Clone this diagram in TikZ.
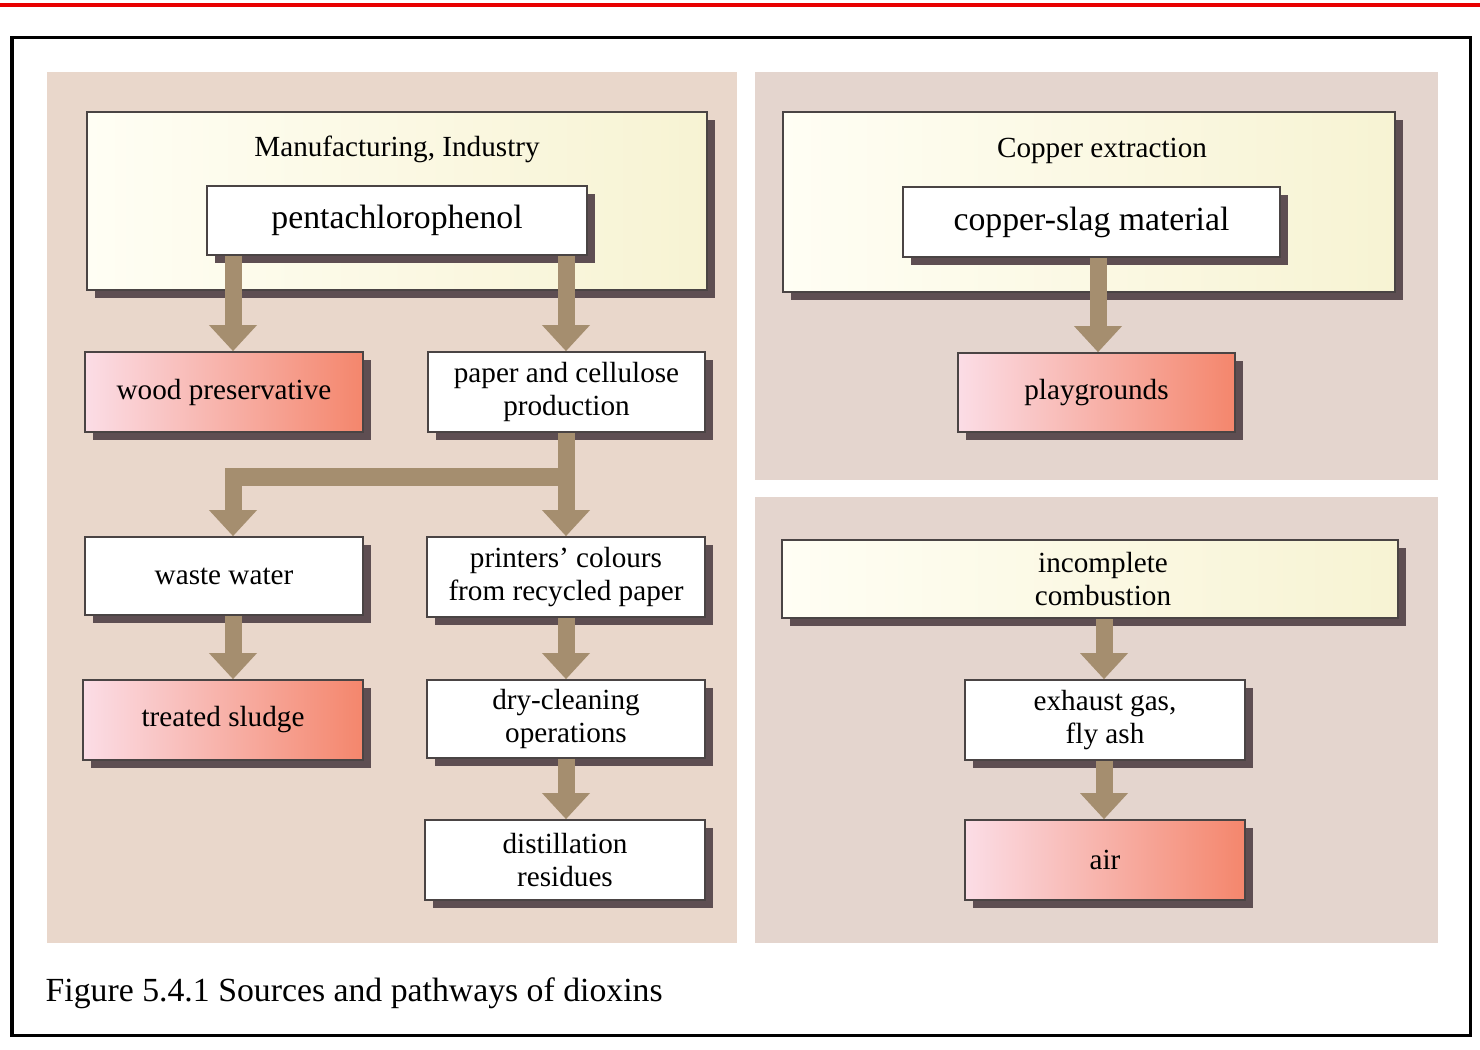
\documentclass[tikz,border=0pt]{standalone}
\usepackage{fontspec}
\setmainfont{Liberation Serif}
\usetikzlibrary{arrows.meta,shadows}
\definecolor{panelL}{HTML}{E9D7CB}
\definecolor{panelR}{HTML}{E4D5CE}
\definecolor{arrowcol}{HTML}{A58E6F}
\definecolor{edgecol}{HTML}{4A4444}
\definecolor{shadecol}{HTML}{5E4E52}
\definecolor{pinkL}{HTML}{FBDDE6}
\definecolor{salmon}{HTML}{F4866C}
\definecolor{creamL}{HTML}{FFFEF4}
\definecolor{creamR}{HTML}{F7F3D3}
\definecolor{topred}{HTML}{E80000}
\newcommand\myboxfont{\fontsize{8.3}{9.4}\selectfont}
\newcommand\mybigfont{\fontsize{9.6}{11}\selectfont}
\tikzset{
  box/.style={draw=edgecol, line width=0.5pt, align=center, inner sep=0pt,
    font=\myboxfont,
    general shadow={fill=shadecol, shadow xshift=0.08cm, shadow yshift=-0.08cm}},
  whitebox/.style={box, fill=white},
  redbox/.style={box, left color=pinkL, right color=salmon},
  creambox/.style={box, left color=creamL, right color=creamR},
  fat/.style={draw=arrowcol, line width=0.17cm, line join=miter,
    -{Triangle[width=0.48cm,length=0.26cm,line width=0pt]}},
  lbl/.style={font=\myboxfont, inner sep=0pt}
}
\begin{document}
\begin{tikzpicture}[x=0.01cm,y=-0.01cm]
\useasboundingbox (0,0) rectangle (1480,1049);
\fill[white] (0,0) rectangle (1480,1049);
% top red rule and frame
\draw[topred, line width=0.035cm] (0,5) -- (1480,5);
\draw[black, line width=0.03cm] (12,38) rectangle (1470,1035);
% panels
\fill[panelL] (47,72) rectangle (737,943);
\fill[panelR] (755,72) rectangle (1438,480);
\fill[panelR] (755,497) rectangle (1438,943);

% column coordinates
\coordinate (colL) at (233,0);
\coordinate (colR) at (566,0);
\coordinate (colC) at (1098,0);
\coordinate (colD) at (1104,0);
\coordinate (branch) at (0,477);

% left panel
\node[creambox, minimum width=6.2cm, minimum height=1.78cm] (manu) at (397,201) {};
\node[lbl] (manutxt) at (397,149) {Manufacturing, Industry};
\node[whitebox, font=\mybigfont, minimum width=3.8cm, minimum height=0.69cm] (pcp) at (397,220.5) {pentachlorophenol};
\node[redbox, minimum width=2.78cm, minimum height=0.80cm] (wood) at (224,392) {wood preservative};
\node[whitebox, minimum width=2.77cm, minimum height=0.80cm] (paper) at (566.5,392) {paper and cellulose\\production};
\node[whitebox, minimum width=2.78cm, minimum height=0.78cm] (waste) at (224,576) {waste water};
\node[whitebox, minimum width=2.78cm, minimum height=0.80cm] (printers) at (566,577) {printers’ colours\\from recycled paper};
\node[redbox, minimum width=2.80cm, minimum height=0.80cm] (sludge) at (223,720) {treated sludge};
\node[whitebox, minimum width=2.78cm, minimum height=0.78cm] (dry) at (566,719) {dry-cleaning\\operations};
\node[whitebox, minimum width=2.80cm, minimum height=0.80cm] (dist) at (565,860) {distillation\\residues};

% right top panel
\node[creambox, minimum width=6.12cm, minimum height=1.80cm] (copper) at (1089,202) {};
\node[lbl] (coppertxt) at (1102,151) {Copper extraction};
\node[whitebox, font=\mybigfont, minimum width=3.77cm, minimum height=0.70cm] (slag) at (1091.5,222) {copper-slag material};
\node[redbox, minimum width=2.77cm, minimum height=0.79cm] (play) at (1096.5,392.5) {playgrounds};

% right bottom panel
\node[creambox, minimum width=6.16cm, minimum height=0.78cm] (incomp) at (1090,579) {\hspace*{0.26cm}incomplete\\\hspace*{0.26cm}combustion};
\node[whitebox, minimum width=2.80cm, minimum height=0.80cm] (exhaust) at (1105,720) {exhaust gas,\\fly ash};
\node[redbox, minimum width=2.80cm, minimum height=0.80cm] (air) at (1105,860) {air};

% arrows
\draw[fat] (pcp.south -| colL) -- (wood.north -| colL);
\draw[fat] (pcp.south -| colR) -- (paper.north -| colR);
\draw[fat] (paper.south -| colR) -- (printers.north -| colR);
\draw[fat] (colR |- branch) -| (waste.north -| colL);
\draw[fat] (waste.south -| colL) -- (sludge.north -| colL);
\draw[fat] (printers.south -| colR) -- (dry.north -| colR);
\draw[fat] (dry.south -| colR) -- (dist.north -| colR);
\draw[fat] (slag.south -| colC) -- (play.north -| colC);
\draw[fat] (incomp.south -| colD) -- (exhaust.north -| colD);
\draw[fat] (exhaust.south -| colD) -- (air.north -| colD);

% caption
\node[anchor=west, font=\mybigfont, inner sep=0pt] (cap) at (45,993) {Figure 5.4.1 Sources and pathways of dioxins};
\end{tikzpicture}
\end{document}
